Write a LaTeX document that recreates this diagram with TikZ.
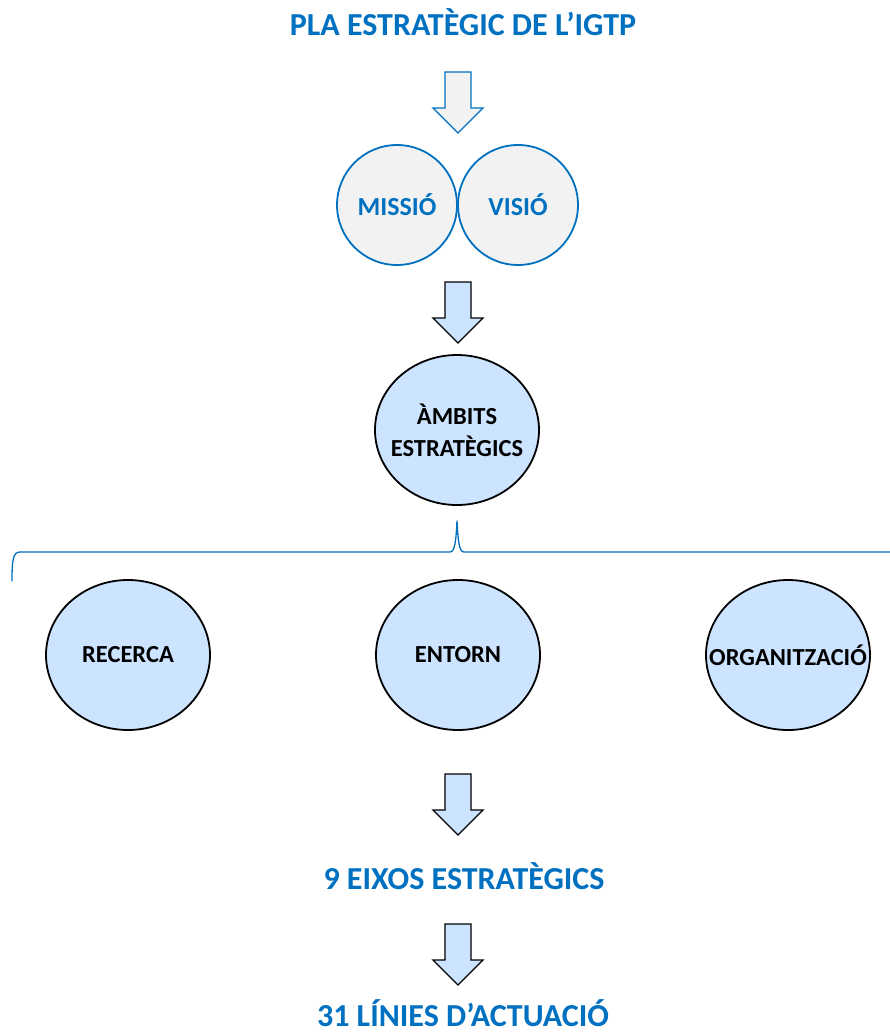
\documentclass[tikz,border=0pt]{standalone}
\usepackage{fontspec}
\setmainfont{Carlito}
\usetikzlibrary{arrows,shapes.geometric}

\definecolor{igtpblue}{RGB}{0,112,192}
\definecolor{lightblue}{RGB}{204,228,255}
\definecolor{lightgray}{RGB}{242,242,242}

% block arrow pointing down, #1 = top y, #2 = fill, #3 = outline
\newcommand{\blockarrow}[3]{%
  \filldraw[fill=#2,draw=#3,line width=1.3pt,line join=miter]
    (445,#1) -- (471,#1) -- (471,#1+36) -- (483,#1+36) -- (458,#1+61)
    -- (433,#1+36) -- (445,#1+36) -- cycle;}

\begin{document}
\begin{tikzpicture}[line cap=round,line join=round,x=1pt,y=-1pt,
    title/.style={text=igtpblue,anchor=base,inner sep=0pt,font=\bfseries\fontsize{32}{38}\selectfont},
    bubble/.style={circle,draw=igtpblue,fill=lightgray,line width=1.8pt,minimum size=120pt,
      text=igtpblue,font=\bfseries\fontsize{26}{30}\selectfont},
    area/.style={ellipse,draw=black,fill=lightblue,line width=1.8pt,minimum width=164pt,
      minimum height=150pt,inner xsep=-32pt,inner ysep=0pt,align=center,
      font=\bfseries\fontsize{24.5}{32}\selectfont}]
  \useasboundingbox (0,0) rectangle (890,1032);

  \node[title] (pla) at (463,36) {PLA ESTRATÈGIC DE L’IGTP};
  \blockarrow{72}{lightgray}{igtpblue}

  \node[bubble] (missio) at (397,205) {MISSIÓ};
  \node[bubble] (visio) at (518,205) {VISIÓ};
  \blockarrow{282}{lightblue}{black}

  \node[area] (ambits) at (457,430) {ÀMBITS\\ESTRATÈGICS};

  % brace
  \draw[igtpblue,line width=1.3pt] (12,581) .. controls (12,560) and (13,552) .. (20,552)
    -- (450,552) .. controls (455,552) and (456,540) .. (457,521)
    .. controls (458,540) and (459,552) .. (464,552) -- (890,552);

  \node[area] (recerca) at (128,655) {RECERCA};
  \node[area] (entorn) at (458,655) {ENTORN};
  \node[area] (organitzacio) at (788,655) {ORGANITZACIÓ};
  \blockarrow{774}{lightblue}{black}

  \node[title] (eixos) at (464,889) {9 EIXOS ESTRATÈGICS};
  \blockarrow{924}{lightblue}{black}

  \node[title] (linies) at (463,1026) {31 LÍNIES D’ACTUACIÓ};
\end{tikzpicture}
\end{document}
